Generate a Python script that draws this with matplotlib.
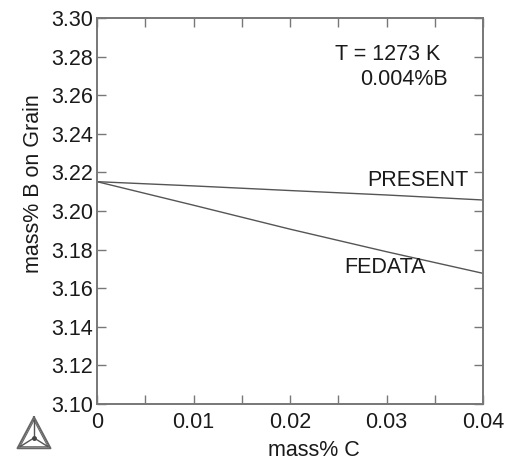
import matplotlib
matplotlib.use("Agg")
import matplotlib.pyplot as plt
from matplotlib.ticker import MultipleLocator, FixedLocator
import numpy as np

plt.rcParams['font.family'] = ['Liberation Sans', 'DejaVu Sans']

# values
mass_c = [0.0, 0.01, 0.02, 0.03, 0.04]
present = [3.2152, 3.2130, 3.2106, 3.2083, 3.2057]
fedata = [3.2152, 3.2030, 3.1906, 3.1789, 3.1677]

x_ticks = [0, 0.01, 0.02, 0.03, 0.04]
x_labels = ['0', '0.01', '0.02', '0.03', '0.04']
y_ticks = [3.10, 3.12, 3.14, 3.16, 3.18, 3.20, 3.22, 3.24, 3.26, 3.28, 3.30]

fig = plt.figure(figsize=(5.23, 4.63), dpi=100)
ax = fig.add_axes([97/523, 1 - 404/463, 386/523, 386/463])

ax.plot(mass_c, present, color='#555555', lw=1.0)
ax.plot(mass_c, fedata, color='#555555', lw=1.0)

ax.set_xlim(0, 0.04)
ax.set_ylim(3.10, 3.30)
ax.xaxis.set_major_locator(FixedLocator(x_ticks))
ax.set_xticklabels(x_labels)
ax.xaxis.set_minor_locator(MultipleLocator(0.005))
ax.set_yticks(y_ticks)
ax.set_yticklabels(['%.2f' % v for v in y_ticks])

ax.tick_params(which='both', direction='in', top=True, right=True,
               length=6.5, width=1, color='#777777', labelsize=15.5, labelcolor='#1a1a1a')
ax.tick_params(axis='x', pad=6)
ax.tick_params(axis='y', pad=3)
for s in ax.spines.values():
    s.set_color('#777777')
    s.set_linewidth(1.4)

ax.set_xlabel('mass% C', fontsize=15.5, color='#1a1a1a', labelpad=5)
ax.set_ylabel('mass% B on Grain', fontsize=15.5, color='#1a1a1a', labelpad=5)
# labels sit a bit off-centre in the original
ax.xaxis.label.set_x(0.562)
ax.yaxis.label.set_y(0.571)

ax.text(0.03016, 3.2813, 'T = 1273 K', fontsize=15.5, color='#1a1a1a', ha='center', va='center')
ax.text(0.03181, 3.2679, '0.004%B', fontsize=15.5, color='#1a1a1a', ha='center', va='center')
ax.text(0.03321, 3.2158, 'PRESENT', fontsize=15.5, color='#1a1a1a', ha='center', va='center')
ax.text(0.02984, 3.1707, 'FEDATA', fontsize=15.5, color='#1a1a1a', ha='center', va='center')

# Thermo-Calc logo
lg = fig.add_axes([14/523, 1 - 451/463, 40/523, 36/463])
lg.set_xlim(-1.05, 1.05)
lg.set_ylim(-0.6, 1.05)
lg.axis('off')
ang = np.deg2rad([90, 210, 330, 90])
for r, w in [(1.0, 1.4), (0.85, 0.8)]:
    lg.plot(r * np.cos(ang), r * np.sin(ang) * 0.95, color='#666666', lw=w)
for a in ang[:3]:
    lg.plot([0, 0.85 * np.cos(a)], [0, 0.85 * np.sin(a) * 0.95], color='#555555', lw=1.0)
lg.plot(0, 0, 'o', ms=2.5, color='#444444')

fig.savefig('out.png', dpi=100)
